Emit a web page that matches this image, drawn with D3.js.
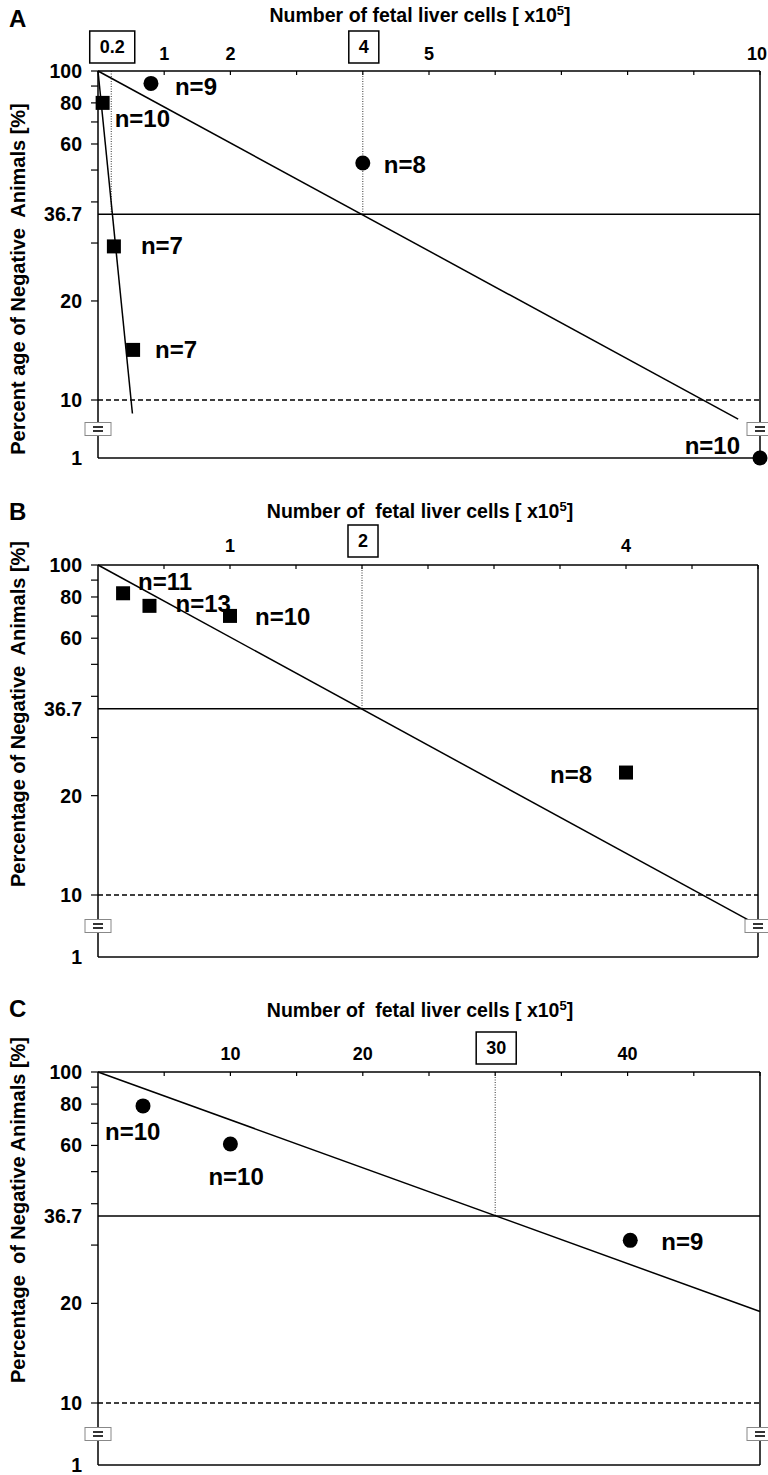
<!DOCTYPE html>
<html>
<head>
<meta charset="utf-8">
<script src="https://cdn.jsdelivr.net/npm/d3@7"></script>
<style>
	body { margin: 0; background: #fff; }
	svg { display: block; font-family: "Liberation Sans", Arial, sans-serif; font-weight: bold; }
</style>
</head>
<body>
<div id="chart"></div>
<script>

// ---- data ----

var panel_letters = ['A', 'B', 'C']

var x_titles = [
	'Number of fetal liver cells [ x10',
	'Number of  fetal liver cells [ x10',
	'Number of  fetal liver cells [ x10'
]

var y_titles = [
	'Percent age of Negative  Animals [%]',
	'Percentage of Negative  Animals [%]',
	'Percentage  of Negative Animals [%]'
]

var x_domains = [[0, 10], [0, 5], [0, 50]]

var x_ticks_a = [1, 2, 3, 4, 5, 6, 7, 8, 9, 10],
	x_ticks_b = [0.5, 1, 1.5, 2, 2.5, 3, 3.5, 4, 4.5, 5],
	x_ticks_c = [5, 10, 15, 20, 25, 30, 35, 40, 45, 50]

var x_labels_a = [1, 2, 5, 10],
	x_labels_b = [1, 4],
	x_labels_c = [10, 20, 40]

// boxed x values = dose giving 36.7 % negative animals
var x_boxed_a = [0.2, 4],
	x_boxed_b = [2],
	x_boxed_c = [30]

var y_ticks = [100, 90, 80, 70, 60, 50, 40, 30, 20, 10],
	y_labels = [100, 80, 60, 36.7, 20, 10],
	y_break_label = 1

// panel A
var a_circle_x = [0.8, 4, 10],
	a_circle_y = [91.7, 52.5, 1],
	a_circle_n = ['n=9', 'n=8', 'n=10']

var a_square_x = [0.07, 0.24, 0.53],
	a_square_y = [80, 29.3, 14.2],
	a_square_n = ['n=10', 'n=7', 'n=7']

var a_fit_circle = [[0, 100], [9.67, 8.75]],
	a_fit_square = [[0, 100], [0.52, 9.1]]

// panel B
var b_square_x = [0.19, 0.39, 1, 4],
	b_square_y = [82.1, 75.2, 70.1, 23.5],
	b_square_n = ['n=11', 'n=13', 'n=10', 'n=8']

var b_fit = [[0, 100], [4.95, 8.3]]

// panel C
var c_circle_x = [3.4, 10, 40.2],
	c_circle_y = [79, 60.6, 31],
	c_circle_n = ['n=10', 'n=10', 'n=9']

var c_fit = [[0, 100], [50, 18.9]]

// ---- layout ----

var width = 768,
	height = 1475,
	left = 98

var layout = [
	{top: 71, ten: 400, bottom: 458, right: 760, letter_y: 27, title_y: 22, tick_y: 60, ylab_cy: 279},
	{top: 565, ten: 895, bottom: 957, right: 758, letter_y: 520, title_y: 518, tick_y: 552, ylab_cy: 714},
	{top: 1072, ten: 1403, bottom: 1465, right: 760, letter_y: 1017, title_y: 1017, tick_y: 1060, ylab_cy: 1210}
]

// label offsets [dx, dy, anchor] per point
var offsets_a_circle = [[24, 12, 'start'], [21, 10, 'start'], [-20, -4, 'end']],
	offsets_a_square = [[12, 24, 'start'], [27, 8, 'start'], [22, 8, 'start']],
	offsets_b_square = [[15, -3, 'start'], [26, 6, 'start'], [25, 9, 'start'], [-34, 10, 'end']],
	offsets_c_circle = [[-38, 34, 'start'], [-22, 41, 'start'], [31, 10, 'start']]

var svg = d3.select('#chart')
	.append('svg')
	.attr('width', width)
	.attr('height', height)

var zip = (xs, ys, ns, offs) => xs.map((x, i) => ({x: x, y: ys[i], n: ns[i], off: offs[i]}))

var panels = [
	{
		ticks: x_ticks_a, labels: x_labels_a, boxed: x_boxed_a,
		circles: zip(a_circle_x, a_circle_y, a_circle_n, offsets_a_circle),
		squares: zip(a_square_x, a_square_y, a_square_n, offsets_a_square),
		fits: [a_fit_circle, a_fit_square]
	},
	{
		ticks: x_ticks_b, labels: x_labels_b, boxed: x_boxed_b,
		circles: [],
		squares: zip(b_square_x, b_square_y, b_square_n, offsets_b_square),
		fits: [b_fit]
	},
	{
		ticks: x_ticks_c, labels: x_labels_c, boxed: x_boxed_c,
		circles: zip(c_circle_x, c_circle_y, c_circle_n, offsets_c_circle),
		squares: [],
		fits: [c_fit]
	}
]

draw_panel = (p, i) => {

	var lay = layout[i]

	var x = d3.scaleLinear()
		.domain(x_domains[i])
		.range([left, lay.right])

	// log scale 10..100 with a break down to 1 (for marks)
	var y = d3.scaleLog()
		.domain([1, 10, 100])
		.range([lay.bottom, lay.ten, lay.top])

	// fitted lines keep the main log decade below 10
	var y_fit = d3.scaleLog()
		.domain([10, 100])
		.range([lay.ten, lay.top])

	var g = svg.append('g')

	// letter + titles
	g.append('text')
		.attr('x', 9)
		.attr('y', lay.letter_y)
		.attr('font-size', 24)
		.text(panel_letters[i])

	var title = g.append('text')
		.attr('x', 420)
		.attr('y', lay.title_y)
		.attr('text-anchor', 'middle')
		.attr('font-size', 19.5)
		.style('white-space', 'pre')

	title.append('tspan').text(x_titles[i])
	title.append('tspan').attr('dy', -7).attr('font-size', 13).text('5')
	title.append('tspan').attr('dy', 7).text(']')

	g.append('text')
		.attr('transform', 'translate(25,' + lay.ylab_cy + ') rotate(-90)')
		.attr('text-anchor', 'middle')
		.attr('font-size', 20)
		.style('white-space', 'pre')
		.text(y_titles[i])

	// reference lines
	g.append('line')
		.attr('x1', left).attr('x2', lay.right)
		.attr('y1', y(36.7)).attr('y2', y(36.7))
		.attr('stroke', '#000')
		.attr('stroke-width', 1.5)

	g.append('line')
		.attr('x1', left).attr('x2', lay.right)
		.attr('y1', y(10)).attr('y2', y(10))
		.attr('stroke', '#000')
		.attr('stroke-width', 1.3)
		.attr('stroke-dasharray', '5,3')

	g.selectAll('.drop')
		.data(p.boxed)
		.join('line')
			.attr('class', 'drop')
			.attr('x1', d => x(d)).attr('x2', d => x(d))
			.attr('y1', lay.top).attr('y2', y(36.7))
			.attr('stroke', '#333')
			.attr('stroke-width', 1)
			.attr('stroke-dasharray', '1,1.5')

	// fitted lines
	g.selectAll('.fit')
		.data(p.fits)
		.join('path')
			.attr('class', 'fit')
			.attr('d', d3.line().x(d => x(d[0])).y(d => y_fit(d[1])))
			.attr('fill', 'none')
			.attr('stroke', '#000')
			.attr('stroke-width', 1.5)

	// frame
	g.append('line')
		.attr('x1', left).attr('x2', lay.right)
		.attr('y1', lay.top).attr('y2', lay.top)
		.attr('stroke', '#000').attr('stroke-width', 1.5)

	g.append('line')
		.attr('x1', left).attr('x2', lay.right)
		.attr('y1', lay.bottom).attr('y2', lay.bottom)
		.attr('stroke', '#444').attr('stroke-width', 2)

	g.selectAll('.vaxis')
		.data([left, lay.right])
		.join('line')
			.attr('class', 'vaxis')
			.attr('x1', d => d).attr('x2', d => d)
			.attr('y1', lay.top).attr('y2', lay.bottom)
			.attr('stroke', '#000').attr('stroke-width', 1.5)

	// y ticks
	g.selectAll('.ytick')
		.data(y_ticks)
		.join('line')
			.attr('class', 'ytick')
			.attr('x1', left - 7).attr('x2', left)
			.attr('y1', d => y(d)).attr('y2', d => y(d))
			.attr('stroke', '#000').attr('stroke-width', 1.2)

	g.selectAll('.ylabel')
		.data(y_labels.concat([y_break_label]))
		.join('text')
			.attr('class', 'ylabel')
			.attr('x', left - 16)
			.attr('y', d => y(d) + 7)
			.attr('text-anchor', 'end')
			.attr('font-size', 19.5)
			.text(d => d)

	// x ticks on top axis
	g.selectAll('.xtick')
		.data(p.ticks)
		.join('line')
			.attr('class', 'xtick')
			.attr('x1', d => x(d)).attr('x2', d => x(d))
			.attr('y1', lay.top).attr('y2', lay.top + 4)
			.attr('stroke', '#000').attr('stroke-width', 1.2)

	g.selectAll('.xlabel')
		.data(p.labels)
		.join('text')
			.attr('class', 'xlabel')
			.attr('x', d => Math.min(x(d), width - 11))
			.attr('y', lay.tick_y)
			.attr('text-anchor', 'middle')
			.attr('font-size', 18)
			.text(d => d)

	var boxed = g.selectAll('.boxed')
		.data(p.boxed)
		.join('g')
			.attr('class', 'boxed')

	boxed.append('text')
		.attr('x', d => x(d) + 1)
		.attr('y', lay.top - 18)
		.attr('text-anchor', 'middle')
		.attr('font-size', 18)
		.text(d => d)

	boxed.each(function() {
		var t = d3.select(this).select('text')
		var bb = t.node().getBBox()
		d3.select(this).insert('rect', 'text')
			.attr('x', bb.x - 10)
			.attr('y', lay.top - 40)
			.attr('width', bb.width + 20)
			.attr('height', 32)
			.attr('fill', '#fff')
			.attr('stroke', '#000')
			.attr('stroke-width', 1.5)
	})

	// axis breaks
	var break_y = (lay.ten + lay.bottom) / 2

	var breaks = g.selectAll('.brk')
		.data([left, lay.right])
		.join('g')
			.attr('class', 'brk')
			.attr('transform', d => 'translate(' + d + ',' + break_y + ')')

	breaks.append('rect')
		.attr('x', -13).attr('y', -6.5)
		.attr('width', 26).attr('height', 13)
		.attr('fill', '#fff')
		.attr('stroke', '#888')
		.attr('stroke-width', 1)

	breaks.selectAll('.eq')
		.data([-2, 2])
		.join('line')
			.attr('class', 'eq')
			.attr('x1', -5).attr('x2', 5)
			.attr('y1', d => d).attr('y2', d => d)
			.attr('stroke', '#000')
			.attr('stroke-width', 1.6)

	// markers
	g.selectAll('.circ')
		.data(p.circles)
		.join('circle')
			.attr('class', 'circ')
			.attr('cx', d => x(d.x))
			.attr('cy', d => y(d.y))
			.attr('r', 7.5)
			.attr('fill', '#000')

	g.selectAll('.sq')
		.data(p.squares)
		.join('rect')
			.attr('class', 'sq')
			.attr('x', d => x(d.x) - 7)
			.attr('y', d => y(d.y) - 7)
			.attr('width', 14)
			.attr('height', 14)
			.attr('fill', '#000')

	g.selectAll('.nlab')
		.data(p.circles.concat(p.squares))
		.join('text')
			.attr('class', 'nlab')
			.attr('x', d => x(d.x) + d.off[0])
			.attr('y', d => y(d.y) + d.off[1])
			.attr('text-anchor', d => d.off[2])
			.attr('font-size', 24)
			.text(d => d.n)

}

panels.forEach(draw_panel)

</script>
</body>
</html>
